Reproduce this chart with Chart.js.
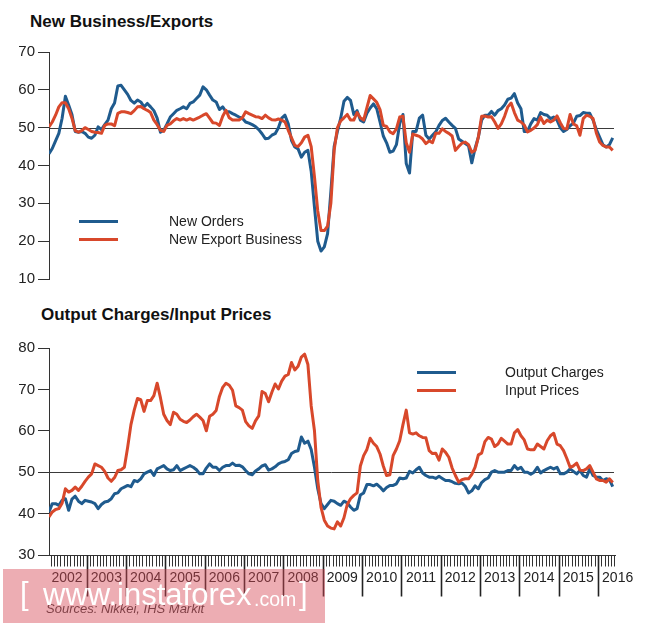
<!DOCTYPE html>
<html>
<head>
<meta charset="utf-8">
<script src="https://cdn.jsdelivr.net/npm/chart.js@4.4.1/dist/chart.umd.min.js"></script>
<style>
  html, body { margin: 0; padding: 0; background: #fff; }
  body { width: 665px; height: 626px; position: relative; overflow: hidden; font-family: "Liberation Sans", Arial, sans-serif; color: #222; }
  canvas { position: absolute; left: 0; }
  .title { position: absolute; font-weight: bold; font-size: 17px; color: #111; white-space: nowrap; }
  .lg-line { position: absolute; width: 39px; height: 3.5px; }
  .lg-text { position: absolute; font-size: 14px; color: #222; white-space: nowrap; line-height: 16px; }
  #src { position: absolute; left: 46px; top: 601px; font-size: 13px; font-style: italic; color: #3a3a3a; white-space: nowrap; }
  #wm { position: absolute; left: 3px; top: 569px; width: 322px; height: 54px; background: rgba(214, 74, 86, 0.45); }
  .wm-t { position: absolute; color: #fff; white-space: nowrap; font-weight: 300; line-height: normal; }
</style>
</head>
<body>
<div class="title" style="left:30px; top:12px;">New Business/Exports</div>
<div class="title" style="left:41px; top:305px;">Output Charges/Input Prices</div>
<canvas id="top" width="665" height="300" style="top:0;"></canvas>
<canvas id="bot" width="665" height="326" style="top:300px;"></canvas>

<div class="lg-line" style="left:79px; top:219.5px; background:#1f5b8e;"></div>
<div class="lg-line" style="left:79px; top:237.5px; background:#d8482b;"></div>
<div class="lg-text" style="left:169px; top:213px;">New Orders</div>
<div class="lg-text" style="left:169px; top:231px;">New Export Business</div>

<div class="lg-line" style="left:417px; top:370.5px; background:#1f5b8e;"></div>
<div class="lg-line" style="left:417px; top:388.5px; background:#d8482b;"></div>
<div class="lg-text" style="left:505px; top:364px;">Output Charges</div>
<div class="lg-text" style="left:505px; top:382px;">Input Prices</div>

<div id="src">Sources: Nikkei, IHS Markit</div>
<div id="wm">
  <div class="wm-t" style="left:17px; top:7px; font-size:31px;">[</div>
  <div class="wm-t" style="left:40px; top:8px; font-size:31px;">www.instaforex</div>
  <div class="wm-t" style="left:251px; top:19px; font-size:19.5px;">.com</div>
  <div class="wm-t" style="left:296px; top:7px; font-size:31px;">]</div>
</div>

<script>
// ---- Data (monthly, Jan 2002 onward) ----
const years = ['2002','2003','2004','2005','2006','2007','2008','2009','2010','2011','2012','2013','2014','2015','2016'];

const newOrders = [
43.1,44.5,46.5,48.5,52.5,58.3,56,53.5,49,48.8,49,48.5,
47.5,47.2,48,50.2,49.5,50.8,52,55,56.5,61,61.2,60,
58.8,57.2,56.5,57.3,56.8,55.5,56.4,55.5,54.5,52.5,48.8,49.3,
51,52.8,53.7,54.6,55,55.5,55,56.4,56.8,57.7,58.6,60.8,
60,58.6,57.3,56.8,54.8,55.5,54.2,54.2,53.7,53.3,52.8,52.5,
51.5,51.2,50.8,50.3,49.5,48.4,47.1,47.2,48,48.4,50,52.5,
53.3,51,46.6,44.9,44.4,42.2,43.5,44,38.5,29,20,17.4,
18.5,22,33,45,49,52.5,57,58,57.2,53.5,54.5,52,
51.5,53.8,55.2,56.3,55,51.5,47.8,46,43.5,43.8,45.5,51,
53.5,40.5,38,49,49,52.5,53.3,48,47,48,48.9,50.6,
51.9,52.5,51.5,50.6,49.8,47,46.4,45.8,45.2,40.7,44.5,47.5,
52,53.3,53.3,54.3,53.3,54.5,55,56,57.5,57.8,59,56.5,
55,49,49,51,52.4,52,54,53.5,53.3,52.4,52.8,52,
50,49,49.5,50.5,51.2,53,53.2,54,53.8,53.8,52,49.5,
47.5,45.5,44.9,45.5,47.3
];

const newExportBusiness = [
50.2,51.5,53.3,55.5,56.6,56.6,55,52.5,49.2,48.8,49.2,50,
49.5,49,48.8,48.7,48.5,50.6,51,51,50.5,53.8,54.2,54.2,
54,53.7,54.5,55.5,55.6,55,54.6,54,52,50.8,49.3,49,
50.6,51,51.8,52.4,52,52.4,52,52.4,52,52.4,52.8,53.3,
53.7,52.5,51.3,51.2,50.6,53,54.6,52.6,52,52,52,52.6,
54.2,53.7,53.3,52.9,52.8,52.4,53.3,52.6,52.1,52,52.3,52,
51.5,49.3,47.3,45.3,45,46,47.5,48,45,37,28,22.8,
22.8,24,30,44,50,51.8,52.6,53.5,52,52,54,52.6,
52,55.3,58.5,57.6,56.7,54.8,50.6,50.3,48.9,48.4,49.7,52.8,
53,46,43.5,48.3,48,47.7,47,45.8,46.5,46,48.5,48.5,
49.7,49,48.5,47.8,44,45,45.9,46.2,45.5,43.5,44,47.5,
53,53.1,52.8,52.9,51.5,49.8,51,53,55.5,56.5,54,52,
51.5,50.7,48.9,49.3,49.9,50.8,52.8,51.1,52,51.5,52,53.1,
51.3,49.8,49.7,53.5,51,50.5,48,52.4,53.3,53,52.4,48.6,
46.2,45.3,44.9,44.9,44
];

const outputCharges = [
40.4,42.4,42.4,42,43.2,43.6,40.8,43.5,44.2,43,42.4,43.2,
43,42.8,42.4,41.2,42.2,42.8,43,43.6,44.8,45,46,46.4,
46.8,46.5,48,47.7,48.4,49.6,50,50.4,49.2,50.8,51.2,51.6,
50.8,50.4,50.6,51.6,50.4,50.8,51.2,51.6,51.2,50.6,49.6,49.6,
51,52,51.2,51.2,50.4,51.2,51.6,51.6,52.2,51.6,51.7,51.3,
50.4,49.6,49.4,50.3,50.8,51.5,51.8,50.5,50.8,51.3,52,52.4,
52.6,53,54.5,55,55.2,58.5,57,57.5,55.5,51.2,46,42.4,
41.2,42.2,43.2,43,42.4,42,43,42.6,41.6,40.8,41.2,44.5,
45,47,47,46.7,47.1,46.4,45.5,46.3,46.8,46.8,47.2,48.6,
48.4,48.6,50.2,49.8,50.6,51.2,49.8,49.2,48.8,48.8,48.5,49,
48.5,48,48,47.7,47.3,47.2,47.4,46.6,45,45.5,46.7,46,
47.5,48.2,48.6,50,50.4,50,50,50,50.4,50.4,51.6,50.7,
51.2,50,50,49.5,50,51.2,49.8,50.4,50.8,51.2,50.8,51.2,
49.6,49.6,50,50.8,50.2,49.6,50.4,49.2,48.8,50.8,49.2,48.8,
48.8,48,48.4,48.2,46.5
];

const inputPrices = [
39.2,40.4,41,41.2,42.5,46,45.2,45.6,46.4,45.6,46.6,47.8,
48.8,49.6,52,51.6,51.2,50.2,48.6,47.8,48.7,50.4,50.6,51.2,
56,61.5,65,67.8,67.5,64.7,67.3,67.3,68.5,71.5,68,64,
62.5,61.5,64.5,64,62.8,62.3,62,62.6,63.4,64,63.3,62.5,
60,63.5,64,64.9,68.3,70.5,71.5,71,69.8,66,65.6,65,
62.2,61.2,60.6,62.4,63.6,69.5,69,67,69.3,71.3,70.1,72,
73.2,73.6,76.5,74.7,75.6,77.8,78.5,76,66,60,48,41.5,
38.4,37,36.5,36.3,38,37,39,42.2,43.6,44.4,45,51.5,
54,55.5,58.2,57,56.2,54.4,51.5,49.2,49.4,54,55.6,57.6,
61.5,65,59.5,59.2,59.5,58.8,58.4,58.3,55.2,54.5,54.6,52.9,
55.6,54.8,53.6,51,49.2,47.6,48.2,48.4,48.4,49.5,51.2,54.2,
54.6,57.4,58.4,58,56.2,56.8,58.2,57.5,56.8,56.8,59.5,60.3,
58.8,57.8,55.6,55.4,55.4,56.8,56.2,55.6,57.6,58.8,59.4,56.8,
56.4,55.2,53.3,51.2,51.5,52.2,50.5,50.4,50.8,51.6,50,48.4,
48,48,47.6,48.4,47.5
];

// ---- Styling ----
const BLUE = '#1f5b8e';
const RED = '#d8482b';
const FONT = '"Liberation Sans", Arial, sans-serif';
const X_MAX = 173;
Chart.defaults.font.family = FONT;

const toXY = arr => arr.map((v, i) => ({ x: i, y: v }));

const refLine = {
  id: 'refLine',
  beforeDatasetsDraw(chart) {
    const { ctx, chartArea: a, scales: { y } } = chart;
    const py = Math.round(y.getPixelForValue(50)) + 0.5;
    ctx.save();
    ctx.strokeStyle = '#3a3a3a';
    ctx.lineWidth = 1;
    ctx.beginPath();
    ctx.moveTo(a.left, py);
    ctx.lineTo(a.right - 2, py);
    ctx.stroke();
    ctx.restore();
  }
};

const timeAxis = {
  id: 'timeAxis',
  afterDraw(chart) {
    const { ctx, chartArea: a, scales: { x } } = chart;
    const base = Math.round(a.bottom) + 0.5;
    ctx.save();
    ctx.strokeStyle = '#333';
    ctx.lineWidth = 1;
    ctx.beginPath();
    ctx.moveTo(a.left, base);
    ctx.lineTo(x.getPixelForValue(X_MAX), base);
    ctx.stroke();
    // monthly minor ticks
    ctx.beginPath();
    for (let m = 0; m < inputPrices.length; m++) {
      const px = Math.round(x.getPixelForValue(m + 0.5)) + 0.5;
      ctx.moveTo(px, base);
      ctx.lineTo(px, base + 11);
    }
    ctx.stroke();
    // year boundary ticks and labels
    ctx.lineWidth = 1.6;
    ctx.strokeStyle = '#222';
    ctx.beginPath();
    years.forEach((yr, k) => {
      if (k > 0) {
        const px = Math.round(x.getPixelForValue(k * 12 - 0.5)) + 0.5;
        ctx.moveTo(px, base);
        ctx.lineTo(px, base + 41);
      }
    });
    ctx.stroke();
    ctx.fillStyle = '#222';
    ctx.font = '14px ' + FONT;
    ctx.textAlign = 'center';
    ctx.textBaseline = 'middle';
    years.forEach((yr, k) => {
      ctx.fillText(yr, x.getPixelForValue(k * 12 + 5.5), base + 23);
    });
    ctx.restore();
  }
};

function makeChart(id, series, colors, yMin, yMax, padding, plugins) {
  return new Chart(document.getElementById(id), {
    type: 'line',
    data: {
      datasets: series.map((s, i) => ({
        data: toXY(s),
        borderColor: colors[i],
        borderWidth: 3,
        pointRadius: 0,
        tension: 0,
        fill: false,
        borderJoinStyle: 'round',
        order: i === 1 ? 0 : 1
      }))
    },
    options: {
      responsive: false,
      animation: false,
      layout: { padding },
      plugins: { legend: { display: false }, tooltip: { enabled: false } },
      scales: {
        x: { type: 'linear', min: 0, max: X_MAX, display: false },
        y: {
          min: yMin, max: yMax,
          afterFit(scale) { scale.width = 49; },
          ticks: { stepSize: 10, color: '#222', font: { size: 15 }, padding: 3 },
          grid: { drawOnChartArea: false, drawTicks: true, tickLength: 11, color: '#333' },
          border: { display: true, color: '#333', width: 1 }
        }
      }
    },
    plugins
  });
}

makeChart('top', [newOrders, newExportBusiness], [BLUE, RED], 10, 70,
  { left: 0, top: 52, right: 49, bottom: 21 }, [refLine]);
makeChart('bot', [outputCharges, inputPrices], [BLUE, RED], 30, 80,
  { left: 0, top: 48, right: 49, bottom: 71 }, [refLine, timeAxis]);
</script>
</body>
</html>
